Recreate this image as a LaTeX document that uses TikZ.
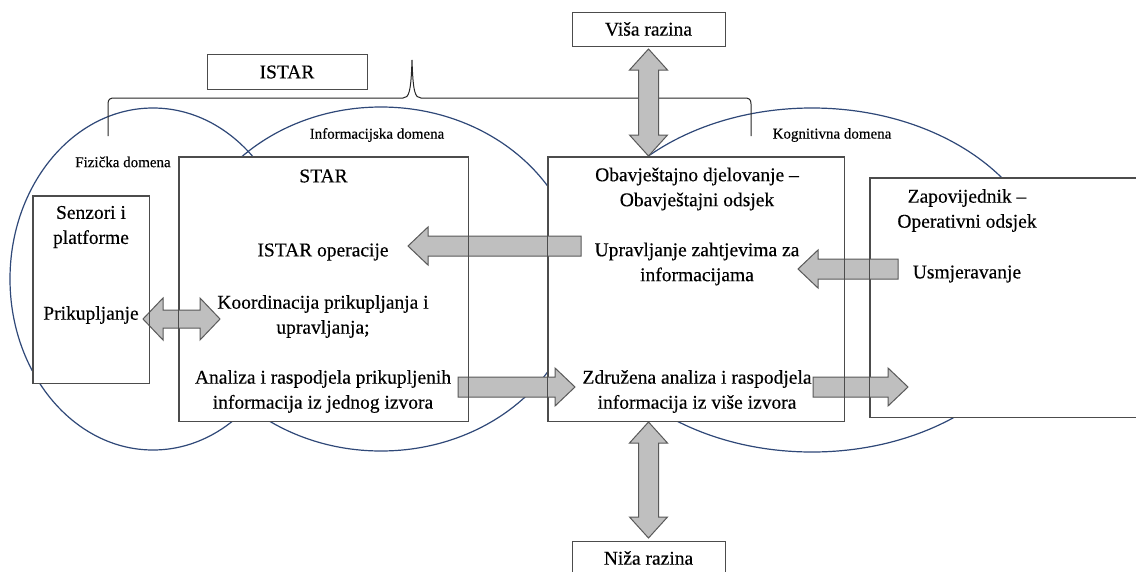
\documentclass[tikz,border=0pt]{standalone}
\usepackage{fontspec}
\setmainfont{Liberation Serif}[FakeBold=0.35]
\definecolor{domblue}{RGB}{47,72,120}
\newcommand\arrR[3]{\draw[blk] ({#1},{#3-10}) -- ({#2-20},{#3-10}) -- ({#2-20},{#3-19}) -- ({#2},{#3}) -- ({#2-20},{#3+19}) -- ({#2-20},{#3+10}) -- ({#1},{#3+10}) -- cycle;}
\newcommand\arrL[3]{\draw[blk] ({#1},{#3-10}) -- ({#2+20},{#3-10}) -- ({#2+20},{#3-19}) -- ({#2},{#3}) -- ({#2+20},{#3+19}) -- ({#2+20},{#3+10}) -- ({#1},{#3+10}) -- cycle;}
\newcommand\arrH[3]{\draw[blk] ({#1},{#3}) -- ({#1+20},{#3-21}) -- ({#1+20},{#3-9}) -- ({#2-20},{#3-9}) -- ({#2-20},{#3-21}) -- ({#2},{#3}) -- ({#2-20},{#3+21}) -- ({#2-20},{#3+9}) -- ({#1+20},{#3+9}) -- ({#1+20},{#3+21}) -- cycle;}
\newcommand\arrV[3]{\draw[blk] ({#1},{#2}) -- ({#1+19},{#2+21}) -- ({#1+10},{#2+21}) -- ({#1+10},{#3-21}) -- ({#1+19},{#3-21}) -- ({#1},{#3}) -- ({#1-19},{#3-21}) -- ({#1-10},{#3-21}) -- ({#1-10},{#2+21}) -- ({#1-19},{#2+21}) -- cycle;}
\begin{document}
\begin{tikzpicture}[x=1pt,y=-1pt,
  boxline/.style={draw=black!70, line width=1pt},
  box/.style={boxline, fill=white, rectangle, inner sep=0pt},
  dom/.style={draw=domblue, line width=1.2pt},
  lbl/.style={font=\fontsize{19.5}{25}\selectfont, align=center, inner sep=0pt},
  small/.style={font=\fontsize{15}{18}\selectfont, inner sep=0pt},
  blk/.style={draw=black!65, fill=black!25, line width=1pt, line join=miter},
  brace/.style={draw=black!85, line width=1pt}]
\clip (0,0) rectangle (1136,571);
\fill[white] (0,0) rectangle (1136,571);
% domains
\draw[dom] (153,279) ellipse [x radius=143, y radius=171];
\draw[dom] (381,279) ellipse [x radius=198, y radius=172];
\draw[dom] (812,280) ellipse [x radius=236, y radius=172];
% brace
\draw[brace] (108,136) -- (108,104) .. controls (108,99) and (110,98) .. (115,98) -- (403,98) .. controls (409,98) and (411,92) .. (412,60) .. controls (413,92) and (415,98) .. (421,98) -- (744,98) .. controls (749,98) and (751,99) .. (751,104) -- (751,136);
% boxes
\node[box, minimum width=160, minimum height=35] (istar) at (287,71.5) {};
\node[box, minimum width=153, minimum height=34] (visa) at (648.5,29) {};
\node[box, minimum width=153, minimum height=40, anchor=north] (niza) at (648.5,541) {};
\node[box, minimum width=289, minimum height=264] (star) at (323.5,289) {};
\node[box, minimum width=116, minimum height=187] (senz) at (91,289.5) {};
\node[box, minimum width=296, minimum height=264] (obav) at (696,289) {};
\node[box, minimum width=280, minimum height=239] (zap) at (1010,297.5) {};
% texts
\node[lbl] (tistar) at (287,72) {ISTAR};
\node[lbl] (tvisa) at (648.5,29) {Viša razina};
\node[lbl] (tniza) at (648.5,558) {Niža razina};
\node[lbl] (tstar) at (323.5,176) {STAR};
\node[lbl] (tsenz) at (91,227) {Senzori i\\platforme};
\node[lbl] (tprik) at (91,315) {Prikupljanje};
\node[lbl] (tops) at (323,252) {ISTAR operacije};
\node[lbl] (tkoord) at (323,316.5) {Koordinacija prikupljanja i\\upravljanja;};
\node[lbl] (tanal) at (323,391.5) {Analiza i raspodjela prikupljenih\\informacija iz jednog izvora};
\node[lbl] (tobav) at (697,189) {Obavještajno djelovanje –\\Obavještajni odsjek};
\node[lbl] (tupr) at (697,264) {Upravljanje zahtjevima za\\informacijama};
\node[lbl] (tzdr) at (697,391.5) {Združena analiza i raspodjela\\informacija iz više izvora};
\node[lbl] (tzap) at (967,210.5) {Zapovijednik –\\Operativni odsjek};
\node[lbl] (tusm) at (967,274) {Usmjeravanje};
\node[small] (lfiz) at (123,162) {Fizička domena};
\node[small] (linf) at (377,135) {Informacijska domena};
\node[small] (lkog) at (832,135) {Kognitivna domena};
% block arrows
\arrV{648.5}{49}{156}
\arrV{648.5}{422}{538}
\arrL{581}{408}{246}
\arrL{898}{798}{269}
\arrH{143}{220}{319}
\arrR{458}{575}{387}
\arrR{813}{908}{387}
% box borders over arrows
\foreach \b in {star,senz,obav,zap}
  \draw[boxline] (\b.south west) rectangle (\b.north east);
\end{tikzpicture}
\end{document}
